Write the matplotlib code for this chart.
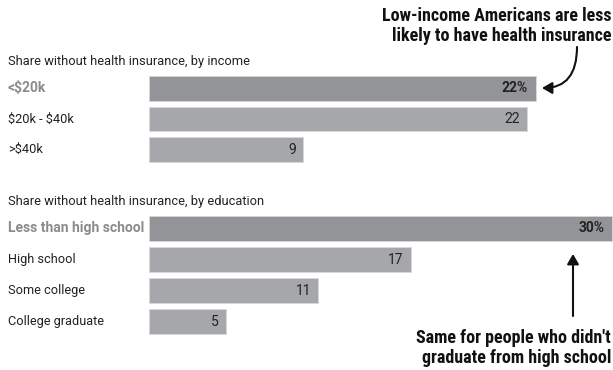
import matplotlib
matplotlib.use("Agg")
import matplotlib.pyplot as plt
from matplotlib import font_manager
from matplotlib.patches import FancyArrowPatch
from matplotlib.transforms import blended_transform_factory

plt.rcParams["text.parse_math"] = False

# ---- data ----
income_cats = ["<$20k", "$20k - $40k", ">$40k"]
income_vals = [22.5, 22, 9]
income_labels = ["22%", "22", "9"]

edu_cats = ["Less than high school", "High school", "Some college", "College graduate"]
edu_vals = [30, 17, 11, 5]
edu_labels = ["30%", "17", "11", "5"]

income_title = "Share without health insurance, by income"
edu_title = "Share without health insurance, by education"
note_top = "Low-income Americans are less\nlikely to have health insurance"
note_bottom = "Same for people who didn't\ngraduate from high school"


def pick_font(names):
    for n in names:
        try:
            font_manager.findfont(n, fallback_to_default=False)
            return n
        except Exception:
            continue
    return "DejaVu Sans"


NARROW = pick_font(["Liberation Sans Narrow", "Roboto Condensed", "DejaVu Sans"])
BODY = pick_font(["Liberation Sans Narrow", "Roboto", "DejaVu Sans"])

W, H = 613, 370
BAR_DARK = "#939498"
BAR_LIGHT = "#a6a7aa"
HILITE_TXT = "#8a8b8e"
TXT = "#222222"

fig = plt.figure(figsize=(W / 100, H / 100), dpi=100)
fig.patch.set_facecolor("white")


def px_axes(left, top, right, bottom):
    return fig.add_axes([left / W, 1 - bottom / H, (right - left) / W, (bottom - top) / H])


def fx(x):
    return x / W


def fy(y):
    return 1 - y / H


def draw_panel(ax, cats, vals, labels, xmax, height):
    ax.set_xlim(0, xmax)
    ax.set_ylim(len(cats) - 0.5, -0.5)
    ax.axis("off")
    colors = [BAR_DARK] + [BAR_LIGHT] * (len(cats) - 1)
    ax.barh(range(len(cats)), vals, height=height, color=colors,
            edgecolor="#d8d8da", linewidth=0.6)
    tr = blended_transform_factory(fig.transFigure, ax.transData)
    for i, (c, v, lab) in enumerate(zip(cats, vals, labels)):
        hi = i == 0
        ax.text(v - xmax * 0.016, i, lab, ha="right", va="center",
                fontsize=10, color=TXT, family=BODY,
                fontweight="bold" if hi else "normal")
        ax.text(fx(8), i, c, transform=tr, ha="left", va="center",
                fontsize=10 if hi else 9.2, family=BODY,
                color=HILITE_TXT if hi else TXT,
                fontweight="bold" if hi else "normal")


ax1 = px_axes(148.5, 73.1, 613, 164.9)
draw_panel(ax1, income_cats, income_vals, income_labels, 464.5 / 17.2, 0.8)

ax2 = px_axes(148.5, 212.9, 613, 337.3)
draw_panel(ax2, edu_cats, edu_vals, edu_labels, 464.5 / 15.45, 0.79)

fig.text(fx(8), fy(61), income_title, ha="left", va="center",
         fontsize=9.3, family=BODY, color=TXT)
fig.text(fx(8), fy(202), edu_title, ha="left", va="center",
         fontsize=9.3, family=BODY, color=TXT)

fig.text(fx(611), fy(26), note_top, ha="right", va="center",
         fontsize=13, family=NARROW, fontweight="bold", color="#111111",
         linespacing=1.15, multialignment="right")
fig.text(fx(611), fy(348), note_bottom, ha="right", va="center",
         fontsize=13, family=NARROW, fontweight="bold", color="#111111",
         linespacing=1.15, multialignment="right")

# curved arrow to the <$20k bar
arr1 = FancyArrowPatch((fx(577), fy(47)), (fx(542), fy(88)),
                       transform=fig.transFigure,
                       connectionstyle="angle3,angleA=90,angleB=0",
                       arrowstyle="-|>,head_length=6,head_width=3.5",
                       color="#111111", linewidth=1.5, shrinkA=0, shrinkB=0)
fig.add_artist(arr1)

# straight arrow to the education bar
arr2 = FancyArrowPatch((fx(573), fy(316)), (fx(573), fy(254)),
                       transform=fig.transFigure,
                       arrowstyle="-|>,head_length=6,head_width=3.5",
                       color="#111111", linewidth=1.5, shrinkA=0, shrinkB=0)
fig.add_artist(arr2)

fig.savefig("out.png", dpi=100, facecolor="white")
